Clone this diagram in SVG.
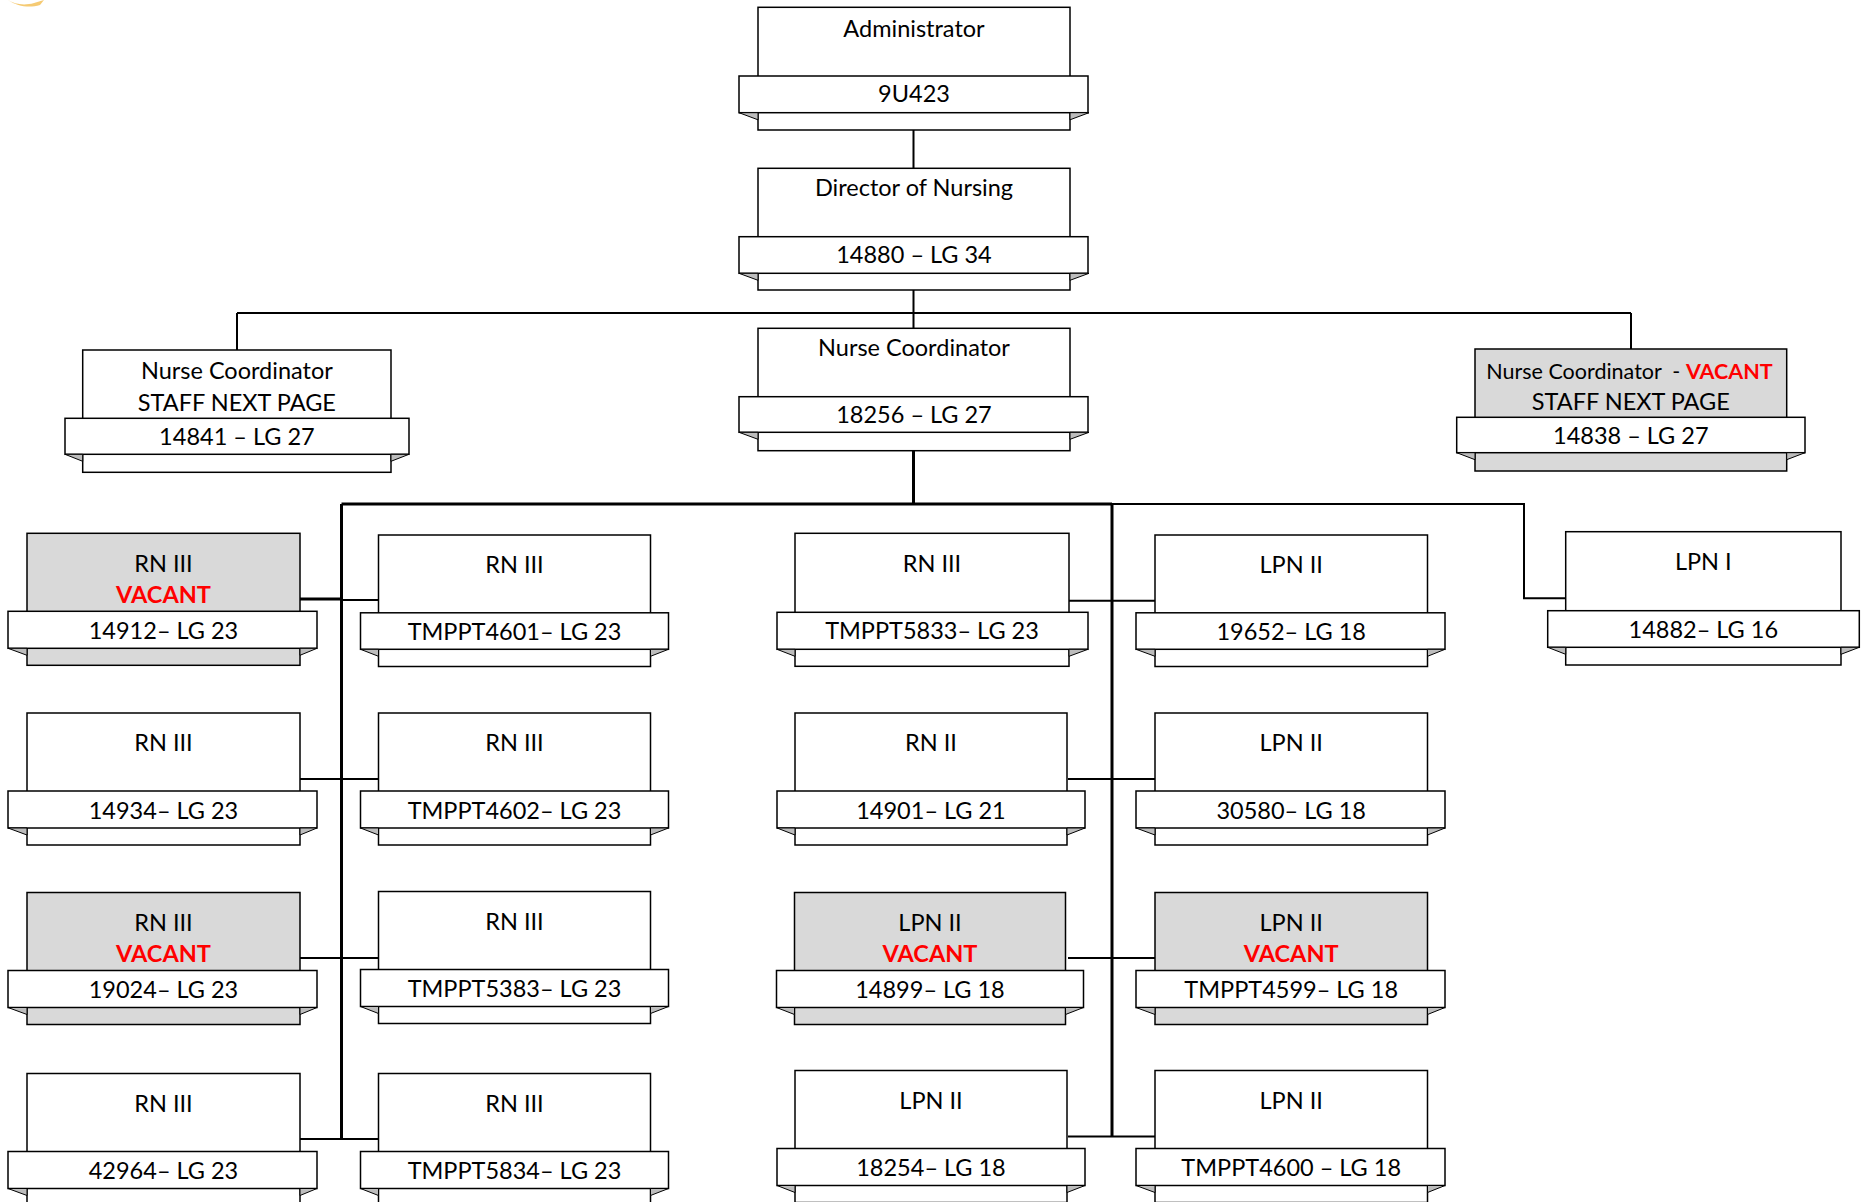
<svg xmlns="http://www.w3.org/2000/svg" width="1866" height="1202" viewBox="0 0 1866 1202">
<style>
.box{fill:#fff;stroke:#000;stroke-width:1.5}
.vac{fill:#d9d9d9}
.band{fill:#fff;stroke:#000;stroke-width:1.5}
.fold{fill:#bdbdbd;stroke:#000;stroke-width:1}
.t{font-family:Lato,"Liberation Sans",sans-serif;font-size:23.5px;text-anchor:middle;fill:#000}
.s{font-size:21.5px}
.v{fill:#ff0000;font-weight:bold}
.ln{fill:none;stroke:#000;stroke-width:2}
.th{fill:none;stroke:#000;stroke-width:3}
</style>
<rect width="1866" height="1202" fill="#fff"/>
<path d="M8,0 C14,4 24,6 34,3 L44,0 L40,5 C30,8 18,7 8,0Z" fill="#f1b338" opacity="0.7"/>

<g id="connectors">
<path class="ln" d="M913.5,130V168.3M913.5,290V328.3M237,313H1631M237,313V350M1631,313V349"/>
<path class="th" d="M913.5,450.7V504M341.5,504H1112M341.5,504V1139.5M1112,504V1137"/>
<path class="ln" d="M1112,504H1524V598.3H1566"/>
<path class="th" d="M300,599H341.5"/>
<path class="ln" d="M341.5,600H378.5M300,779H378.5M300,958H378.5M300,1139H378.5"/>
<path class="ln" d="M1068,600.7H1155M1068,779H1155M1068,958H1155M1068,1136.5H1155"/>
</g>

<g id="administrator" transform="translate(758,7.3)">
<rect class="box" width="312" height="122.7"/>
<rect class="band" x="-19" y="68.7" width="349" height="36.7"/>
<path class="fold" d="M-19,105.4H0V112.5ZM331,105.4H312V112.5Z"/>
<text class="t" x="156" y="29.5">Administrator</text>
<text class="t" x="156" y="94.6">9U423</text>
</g>

<g id="director" transform="translate(758,168.3)">
<rect class="box" width="312" height="121.7"/>
<rect class="band" x="-19" y="68.4" width="349" height="36.6"/>
<path class="fold" d="M-19,105H0V112ZM331,105H312V112Z"/>
<text class="t" x="156" y="27.4">Director of Nursing</text>
<text class="t" x="156" y="95">14880 – LG 34</text>
</g>

<g id="nc-center" transform="translate(758,328.3)">
<rect class="box" width="312" height="122.4"/>
<rect class="band" x="-19" y="68.4" width="349" height="35.6"/>
<path class="fold" d="M-19,104H0V111ZM331,104H312V111Z"/>
<text class="t" x="156" y="27.7">Nurse Coordinator</text>
<text class="t" x="156" y="95">18256 – LG 27</text>
</g>

<g id="nc-left" transform="translate(82.7,350)">
<rect class="box" width="308.3" height="122.3"/>
<rect class="band" x="-17.7" y="68.3" width="344" height="36"/>
<path class="fold" d="M-17.7,104.3H0V111.3ZM326.3,104.3H308.3V111.3Z"/>
<text class="t" x="154.2" y="29.3">Nurse Coordinator</text>
<text class="t" x="154.2" y="60.7">STAFF NEXT PAGE</text>
<text class="t" x="154.2" y="95">14841 – LG 27</text>
</g>

<g id="nc-right" transform="translate(1475,349)">
<rect class="box vac" width="311.7" height="122"/>
<rect class="band" x="-18.3" y="68.3" width="348.3" height="35.4"/>
<path class="fold" d="M-18.3,103.7H0V110.7ZM330,103.7H311.7V110.7Z"/>
<text class="t s" x="154.5" y="30.3" xml:space="preserve">Nurse Coordinator  - <tspan class="v">VACANT</tspan></text>
<text class="t" x="155.8" y="61">STAFF NEXT PAGE</text>
<text class="t" x="155.8" y="95">14838 – LG 27</text>
</g>

<g id="n14912" transform="translate(27,533.3)">
<rect class="box vac" width="273" height="132"/>
<rect class="band" x="-19" y="78" width="309" height="37"/>
<path class="fold" d="M-19,115H0V122ZM290,115H273V122Z"/>
<text class="t" x="136.5" y="38.4">RN III</text>
<text class="t v" x="136.5" y="69.4">VACANT</text>
<text class="t" x="136.5" y="105.5">14912– LG 23</text>
</g>
<g id="n14934" transform="translate(27,713)">
<rect class="box" width="273" height="132"/>
<rect class="band" x="-19" y="78" width="309" height="37"/>
<path class="fold" d="M-19,115H0V122ZM290,115H273V122Z"/>
<text class="t" x="136.5" y="38">RN III</text>
<text class="t" x="136.5" y="105.5">14934– LG 23</text>
</g>
<g id="n19024" transform="translate(27,892.5)">
<rect class="box vac" width="273" height="132"/>
<rect class="band" x="-19" y="78" width="309" height="37"/>
<path class="fold" d="M-19,115H0V122ZM290,115H273V122Z"/>
<text class="t" x="136.5" y="38.4">RN III</text>
<text class="t v" x="136.5" y="69.4">VACANT</text>
<text class="t" x="136.5" y="105.5">19024– LG 23</text>
</g>
<g id="n42964" transform="translate(27,1073.5)">
<rect class="box" width="273" height="132"/>
<rect class="band" x="-19" y="78" width="309" height="37"/>
<path class="fold" d="M-19,115H0V122ZM290,115H273V122Z"/>
<text class="t" x="136.5" y="38">RN III</text>
<text class="t" x="136.5" y="105.5">42964– LG 23</text>
</g>

<g id="nTMPPT4601" transform="translate(378.5,535)">
<rect class="box" width="272" height="131.5"/>
<rect class="band" x="-18" y="77.8" width="308" height="36.5"/>
<path class="fold" d="M-18,114.3H0V121.3ZM290,114.3H272V121.3Z"/>
<text class="t" x="136" y="37.7">RN III</text>
<text class="t" x="136" y="104.5">TMPPT4601– LG 23</text>
</g>
<g id="nTMPPT4602" transform="translate(378.5,713)">
<rect class="box" width="272" height="132"/>
<rect class="band" x="-18" y="78" width="308" height="37"/>
<path class="fold" d="M-18,115H0V122ZM290,115H272V122Z"/>
<text class="t" x="136" y="38">RN III</text>
<text class="t" x="136" y="105.5">TMPPT4602– LG 23</text>
</g>
<g id="nTMPPT5383" transform="translate(378.5,891.5)">
<rect class="box" width="272" height="132"/>
<rect class="band" x="-18" y="78" width="308" height="37"/>
<path class="fold" d="M-18,115H0V122ZM290,115H272V122Z"/>
<text class="t" x="136" y="38">RN III</text>
<text class="t" x="136" y="105.5">TMPPT5383– LG 23</text>
</g>
<g id="nTMPPT5834" transform="translate(378.5,1073.5)">
<rect class="box" width="272" height="132"/>
<rect class="band" x="-18" y="78" width="308" height="37"/>
<path class="fold" d="M-18,115H0V122ZM290,115H272V122Z"/>
<text class="t" x="136" y="38">RN III</text>
<text class="t" x="136" y="105.5">TMPPT5834– LG 23</text>
</g>

<g id="nTMPPT5833" transform="translate(795,533.3)">
<rect class="box" width="274" height="133"/>
<rect class="band" x="-18" y="79" width="311" height="37"/>
<path class="fold" d="M-18,116H0V123ZM293,116H274V123Z"/>
<text class="t" x="137" y="39">RN III</text>
<text class="t" x="137" y="106">TMPPT5833– LG 23</text>
</g>
<g id="n14901" transform="translate(795,713)">
<rect class="box" width="272" height="132"/>
<rect class="band" x="-18" y="78" width="308" height="37"/>
<path class="fold" d="M-18,115H0V122ZM290,115H272V122Z"/>
<text class="t" x="136" y="38">RN II</text>
<text class="t" x="136" y="105.5">14901– LG 21</text>
</g>
<g id="n14899" transform="translate(794.5,892.5)">
<rect class="box vac" width="271" height="132"/>
<rect class="band" x="-18" y="78" width="307" height="37"/>
<path class="fold" d="M-18,115H0V122ZM289,115H271V122Z"/>
<text class="t" x="135.5" y="38.4">LPN II</text>
<text class="t v" x="135.5" y="69.4">VACANT</text>
<text class="t" x="135.5" y="105.5">14899– LG 18</text>
</g>
<g id="n18254" transform="translate(795,1070.5)">
<rect class="box" width="272" height="132"/>
<rect class="band" x="-18" y="78" width="308" height="37"/>
<path class="fold" d="M-18,115H0V122ZM290,115H272V122Z"/>
<text class="t" x="136" y="38">LPN II</text>
<text class="t" x="136" y="105.5">18254– LG 18</text>
</g>

<g id="n19652" transform="translate(1155,535)">
<rect class="box" width="272.5" height="131.5"/>
<rect class="band" x="-19" y="77.8" width="309" height="36.5"/>
<path class="fold" d="M-19,114.3H0V121.3ZM290,114.3H272.5V121.3Z"/>
<text class="t" x="136.2" y="37.7">LPN II</text>
<text class="t" x="136.2" y="104.5">19652– LG 18</text>
</g>
<g id="n30580" transform="translate(1155,713)">
<rect class="box" width="272.5" height="132"/>
<rect class="band" x="-19" y="78" width="309" height="37"/>
<path class="fold" d="M-19,115H0V122ZM290,115H272.5V122Z"/>
<text class="t" x="136.2" y="38">LPN II</text>
<text class="t" x="136.2" y="105.5">30580– LG 18</text>
</g>
<g id="nTMPPT4599" transform="translate(1155,892.5)">
<rect class="box vac" width="272.5" height="132"/>
<rect class="band" x="-19" y="78" width="309" height="37"/>
<path class="fold" d="M-19,115H0V122ZM290,115H272.5V122Z"/>
<text class="t" x="136.2" y="38.4">LPN II</text>
<text class="t v" x="136.2" y="69.4">VACANT</text>
<text class="t" x="136.2" y="105.5">TMPPT4599– LG 18</text>
</g>
<g id="nTMPPT4600" transform="translate(1155,1070.5)">
<rect class="box" width="272.5" height="132"/>
<rect class="band" x="-19" y="78" width="309" height="37"/>
<path class="fold" d="M-19,115H0V122ZM290,115H272.5V122Z"/>
<text class="t" x="136.2" y="38">LPN II</text>
<text class="t" x="136.2" y="105.5">TMPPT4600 – LG 18</text>
</g>

<g id="n14882" transform="translate(1565.7,531.7)">
<rect class="box" width="275.3" height="133.3"/>
<rect class="band" x="-18" y="79" width="311.6" height="36.6"/>
<path class="fold" d="M-18,115.6H0V122.6ZM293.6,115.6H275.3V122.6Z"/>
<text class="t" x="137.6" y="38.5">LPN I</text>
<text class="t" x="137.6" y="106">14882– LG 16</text>
</g>
</svg>
